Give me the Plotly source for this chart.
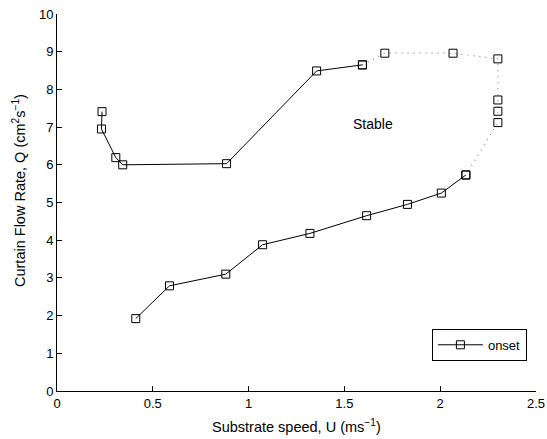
import plotly.graph_objects as go

# Onset (solid) branches: upper branch then lower branch
upper_x = [0.235, 0.232, 0.307, 0.343, 0.885, 1.355, 1.594]
upper_y = [7.41, 6.95, 6.19, 6.00, 6.03, 8.49, 8.65]
lower_x = [2.134, 2.006, 1.829, 1.616, 1.320, 1.073, 0.881, 0.587, 0.411]
lower_y = [5.73, 5.25, 4.95, 4.65, 4.18, 3.88, 3.10, 2.79, 1.92]
# Dotted connecting branch
dot_x = [1.594, 1.711, 2.067, 2.301, 2.301, 2.301, 2.301, 2.134]
dot_y = [8.65, 8.96, 8.96, 8.81, 7.72, 7.42, 7.12, 5.73]

x_ticks = [0, 0.5, 1, 1.5, 2, 2.5]
x_tick_text = ["0", "0.5", "1", "1.5", "2", "2.5"]
y_ticks = list(range(0, 11))

FONT = "Liberation Sans, Arial, Helvetica, sans-serif"

W, H = 547, 439
ML, MR, MT, MB = 57, 11, 14, 48
plot_w = W - ML - MR
plot_h = H - MT - MB

fig = go.Figure()
fig.add_trace(go.Scatter(
    x=dot_x, y=dot_y, mode="lines+markers",
    line=dict(color="#8a8a8a", width=1.2, dash="1px,5px"),
    marker=dict(symbol="square-open", size=8, color="black", line=dict(width=1)),
    showlegend=False, hoverinfo="skip"))
fig.add_trace(go.Scatter(
    x=upper_x + [None] + lower_x, y=upper_y + [None] + lower_y,
    mode="lines+markers", name="onset", connectgaps=False,
    line=dict(color="black", width=1),
    marker=dict(symbol="square-open", size=8, color="black", line=dict(width=1))))

fig.add_annotation(x=1.651, y=7.08, text="Stable", showarrow=False,
                   font=dict(family=FONT, size=14, color="black"))

# axis titles placed as paper annotations
fig.add_annotation(xref="paper", yref="paper", x=(296.5 - ML) / plot_w, y=0,
                   yanchor="middle", xanchor="center", yshift=-(425.5 - (H - MB)),
                   text="Substrate speed, U (ms<sup>−1</sup>)", showarrow=False,
                   font=dict(family=FONT, size=14.5, color="black"))
fig.add_annotation(xref="paper", yref="paper", x=0, y=((H - MB) - 191) / plot_h,
                   xanchor="center", yanchor="middle", xshift=19 - ML,
                   textangle=-90,
                   text="Curtain Flow Rate, Q (cm<sup>2</sup>s<sup>−1</sup>)", showarrow=False,
                   font=dict(family=FONT, size=14.5, color="black"))

axis_common = dict(showline=True, linecolor="black", linewidth=1, showgrid=False,
                   zeroline=False, ticks="inside", ticklen=5, tickcolor="black",
                   tickfont=dict(family=FONT, size=13, color="black"), mirror=False,
                   automargin=False)

fig.update_layout(
    width=W, height=H,
    margin=dict(l=ML, r=MR, t=MT, b=MB),
    paper_bgcolor="white", plot_bgcolor="white",
    font=dict(family=FONT, size=13, color="black"),
    xaxis=dict(range=[0, 2.5], tickvals=x_ticks, ticktext=x_tick_text, **axis_common),
    yaxis=dict(range=[0, 10], tickvals=y_ticks, **axis_common),
    legend=dict(x=0.981, y=0.08, xanchor="right", yanchor="bottom",
                bordercolor="black", borderwidth=1, bgcolor="white",
                itemwidth=45, font=dict(family=FONT, size=13)),
)

fig.write_html("out.html", config={"displayModeBar": False},
               post_script="document.body.style.margin='0px';")
